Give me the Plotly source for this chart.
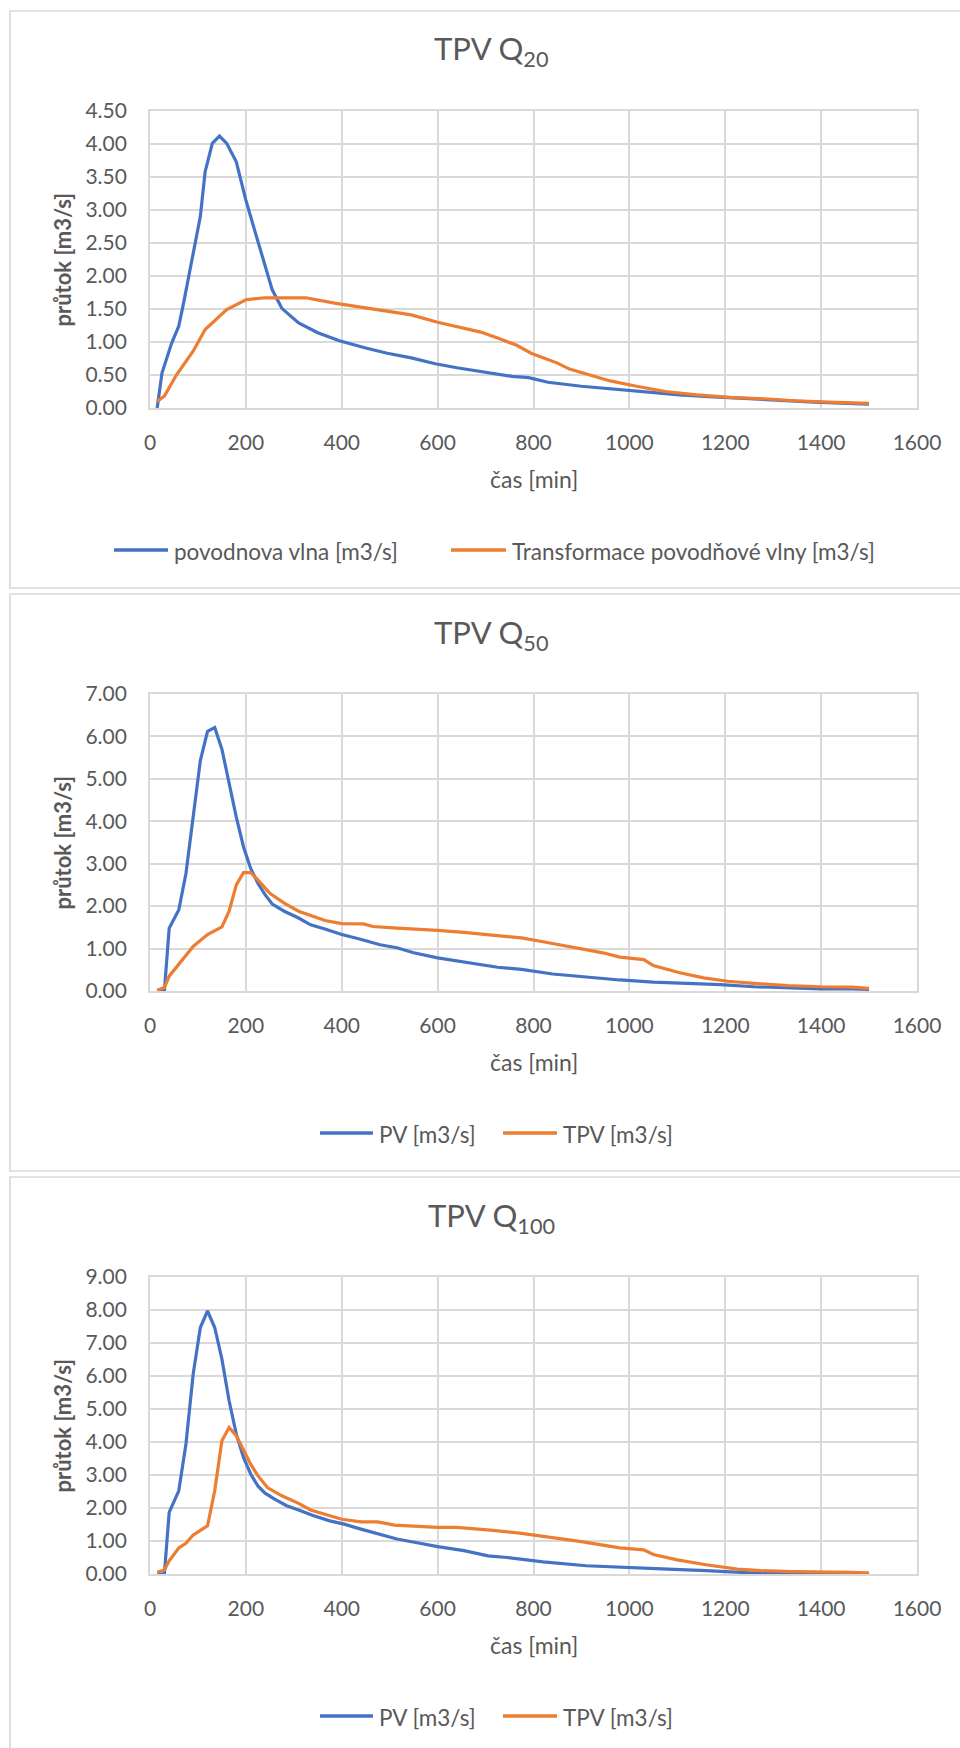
import plotly.graph_objects as go

# ---------------- data ----------------
titles = ["TPV Q<sub>20</sub>", "TPV Q<sub>50</sub>", "TPV Q<sub>100</sub>"]
pv_names = ["povodnova vlna [m3/s]", "PV [m3/s]", "PV [m3/s]"]
tpv_names = ["Transformace povodňové vlny [m3/s]", "TPV [m3/s]", "TPV [m3/s]"]
y_max = [4.5, 7.0, 9.0]
y_step = [0.5, 1.0, 1.0]
x_ticks = [0, 200, 400, 600, 800, 1000, 1200, 1400, 1600]
x_title = "čas [min]"
y_title = "průtok [m3/s]"

pv20_t = [15, 25, 45, 60, 70, 85, 105, 115, 130, 145, 160, 180, 200, 220, 240, 255, 275, 310, 350, 395,
          450, 495, 545, 595, 640, 700, 755, 790, 830, 900, 965, 1035, 1105, 1175, 1245, 1315, 1385, 1455, 1500]
pv20_q = [0.00, 0.53, 0.98, 1.24, 1.59, 2.14, 2.90, 3.58, 4.01, 4.12, 4.01, 3.73, 3.15, 2.65, 2.17, 1.79, 1.51, 1.29, 1.14, 1.02,
          0.91, 0.83, 0.76, 0.67, 0.61, 0.54, 0.48, 0.46, 0.39, 0.33, 0.29, 0.25, 0.20, 0.17, 0.14, 0.11, 0.09, 0.07, 0.06]
tpv20_t = [15, 30, 55, 90, 115, 135, 160, 200, 240, 280, 325, 385, 460, 545, 600, 655, 690, 725, 765, 795,
           850, 875, 925, 960, 1015, 1075, 1140, 1210, 1280, 1345, 1415, 1500]
tpv20_q = [0.10, 0.18, 0.50, 0.86, 1.19, 1.33, 1.49, 1.64, 1.67, 1.67, 1.67, 1.59, 1.51, 1.41, 1.30, 1.21, 1.15, 1.06, 0.95, 0.83,
           0.68, 0.59, 0.48, 0.41, 0.33, 0.25, 0.20, 0.16, 0.14, 0.11, 0.09, 0.07]

pv50_t = [15, 30, 40, 60, 75, 90, 105, 120, 135, 150, 165, 180, 195, 210, 225, 240, 255, 280, 310, 335,
          365, 400, 435, 480, 515, 550, 600, 655, 690, 725, 775, 840, 910, 980, 1050, 1120, 1190, 1260, 1330, 1400, 1465, 1500]
pv50_q = [0.00, 0.00, 1.48, 1.91, 2.77, 4.14, 5.43, 6.12, 6.21, 5.70, 4.88, 4.10, 3.40, 2.89, 2.54, 2.27, 2.05, 1.88, 1.72, 1.56,
          1.46, 1.33, 1.23, 1.09, 1.02, 0.90, 0.78, 0.68, 0.63, 0.56, 0.51, 0.40, 0.33, 0.26, 0.21, 0.18, 0.15, 0.10, 0.07, 0.05, 0.05, 0.04]
tpv50_t = [15, 30, 40, 65, 90, 120, 150, 165, 180, 195, 210, 225, 250, 280, 310, 365, 400, 445, 465, 515,
           550, 600, 655, 725, 775, 820, 875, 945, 980, 1030, 1050, 1105, 1155, 1205, 1260, 1330, 1400, 1465, 1500]
tpv50_q = [0.02, 0.08, 0.35, 0.70, 1.05, 1.33, 1.51, 1.88, 2.50, 2.79, 2.79, 2.62, 2.30, 2.07, 1.88, 1.66, 1.59, 1.58, 1.52, 1.48,
           1.46, 1.43, 1.38, 1.30, 1.25, 1.16, 1.04, 0.90, 0.80, 0.74, 0.60, 0.43, 0.31, 0.23, 0.18, 0.13, 0.10, 0.09, 0.06]

pv100_t = [15, 30, 40, 60, 75, 90, 105, 120, 135, 150, 165, 180, 195, 210, 225, 240, 260, 285, 310, 340,
           375, 405, 440, 465, 490, 515, 560, 600, 655, 705, 745, 775, 820, 910, 980, 1080, 1160, 1260, 1400, 1500]
pv100_q = [0.00, 0.00, 1.87, 2.52, 3.94, 6.05, 7.47, 7.97, 7.47, 6.51, 5.25, 4.24, 3.53, 3.03, 2.67, 2.45, 2.27, 2.07, 1.94, 1.77,
           1.61, 1.51, 1.36, 1.26, 1.16, 1.06, 0.94, 0.83, 0.71, 0.55, 0.50, 0.45, 0.37, 0.25, 0.20, 0.15, 0.10, 0.03, 0.02, 0.02]
tpv100_t = [15, 30, 40, 60, 75, 90, 120, 135, 150, 165, 180, 195, 210, 225, 245, 275, 310, 335, 365, 400,
            440, 475, 510, 560, 600, 640, 710, 775, 830, 900, 980, 1030, 1050, 1100, 1160, 1225, 1275, 1340, 1465, 1500]
tpv100_q = [0.05, 0.12, 0.40, 0.79, 0.93, 1.18, 1.46, 2.52, 4.04, 4.44, 4.19, 3.78, 3.33, 2.98, 2.62, 2.37, 2.14, 1.94, 1.82, 1.66,
            1.58, 1.58, 1.48, 1.44, 1.41, 1.41, 1.33, 1.23, 1.13, 0.98, 0.79, 0.73, 0.59, 0.43, 0.28, 0.15, 0.10, 0.07, 0.05, 0.03]

pv_t = [pv20_t, pv50_t, pv100_t]
pv_q = [pv20_q, pv50_q, pv100_q]
tpv_t = [tpv20_t, tpv50_t, tpv100_t]
tpv_q = [tpv20_q, tpv50_q, tpv100_q]

# ---------------- layout helpers ----------------
W, H = 960, 1748
FONT = "Lato, 'Open Sans', sans-serif"
GREY = "#595959"
GRID = "#d9d9d9"
BLUE = "#4472C4"
ORANGE = "#ED7D31"


def px_x(p):
    return p / W


def px_y(p):
    return 1 - p / H


STEP = 583           # vertical distance between stacked chart boxes
BOX_TOP = 11
BOX_H = 577
PLOT_L, PLOT_R = 150, 917
PLOT_T_OFF, PLOT_B_OFF = 100, 397
LEG_OFF = 539
# legend sample/text x positions (px) per chart: [line1 x0, line1 x1, text1 x, line2 x0, line2 x1, text2 x]
leg_x = [[114, 168, 172, 451, 506, 510],
         [320, 373, 377, 503, 557, 561],
         [320, 373, 377, 503, 557, 561]]

fig = go.Figure()
layout = dict(
    width=W, height=H, margin=dict(l=0, r=0, t=0, b=0),
    paper_bgcolor="white", plot_bgcolor="white",
    font=dict(family=FONT, color=GREY),
    showlegend=False,
)
annotations = []
shapes = []

for i in range(3):
    off = i * STEP
    top = BOX_TOP + off
    p_top = top + PLOT_T_OFF
    p_bot = top + PLOT_B_OFF
    sfx = "" if i == 0 else str(i + 1)

    fig.add_trace(go.Scatter(x=pv_t[i], y=pv_q[i], mode="lines", name=pv_names[i],
                             line=dict(color=BLUE, width=3.2), xaxis="x" + sfx, yaxis="y" + sfx))
    fig.add_trace(go.Scatter(x=tpv_t[i], y=tpv_q[i], mode="lines", name=tpv_names[i],
                             line=dict(color=ORANGE, width=3.2), xaxis="x" + sfx, yaxis="y" + sfx))

    layout["xaxis" + sfx] = dict(
        domain=[px_x(PLOT_L), px_x(PLOT_R)], anchor="y" + sfx,
        range=[0, 1600], tickmode="array", tickvals=x_ticks,
        showgrid=True, gridcolor=GRID, gridwidth=1.7,
        showline=True, linecolor=GRID, linewidth=1.7, mirror=True,
        zeroline=False, ticks="", ticklabelstandoff=15, automargin=False,
        tickfont=dict(family=FONT, size=21, color=GREY),
    )
    layout["yaxis" + sfx] = dict(
        domain=[px_y(p_bot), px_y(p_top)], anchor="x" + sfx,
        range=[0, y_max[i]], dtick=y_step[i], tick0=0, tickformat=".2f",
        showgrid=True, gridcolor=GRID, gridwidth=1.7,
        showline=True, linecolor=GRID, linewidth=1.7, mirror=True,
        zeroline=False, ticks="", ticklabelstandoff=17, automargin=False,
        tickfont=dict(family=FONT, size=21, color=GREY),
    )

    # chart title
    annotations.append(dict(text=titles[i], x=px_x(491), y=px_y(top + 40), xref="paper", yref="paper",
                            xanchor="center", yanchor="middle", showarrow=False,
                            font=dict(family=FONT, size=31, color=GREY)))
    # axis titles
    annotations.append(dict(text="<b>" + y_title + "</b>", x=px_x(62), y=px_y((p_top + p_bot) / 2),
                            xref="paper", yref="paper", xanchor="center", yanchor="middle",
                            textangle=-90, showarrow=False,
                            font=dict(family=FONT, size=22, color=GREY)))
    annotations.append(dict(text=x_title, x=px_x((PLOT_L + PLOT_R) / 2), y=px_y(p_bot + 71),
                            xref="paper", yref="paper", xanchor="center", yanchor="middle",
                            showarrow=False, font=dict(family=FONT, size=23, color=GREY)))
    # legend (line samples + labels)
    ly = top + LEG_OFF
    lx = leg_x[i]
    for (x0, x1, tx, name, col) in [(lx[0], lx[1], lx[2], pv_names[i], BLUE),
                                     (lx[3], lx[4], lx[5], tpv_names[i], ORANGE)]:
        shapes.append(dict(type="line", xref="paper", yref="paper",
                           x0=px_x(x0), x1=px_x(x1), y0=px_y(ly), y1=px_y(ly),
                           line=dict(color=col, width=3.6)))
        annotations.append(dict(text=name, x=px_x(tx), y=px_y(ly + 1), xref="paper", yref="paper",
                                xanchor="left", yanchor="middle", showarrow=False,
                                font=dict(family=FONT, size=22.5, color=GREY)))
    # chart box border
    shapes.append(dict(type="rect", xref="paper", yref="paper",
                       x0=px_x(10), x1=px_x(1000), y0=px_y(top + BOX_H), y1=px_y(top),
                       line=dict(color=GRID, width=1.7), layer="below"))

layout["annotations"] = annotations
layout["shapes"] = shapes
fig.update_layout(**layout)
fig.write_html("out.html", post_script="document.body.style.margin='0';")
